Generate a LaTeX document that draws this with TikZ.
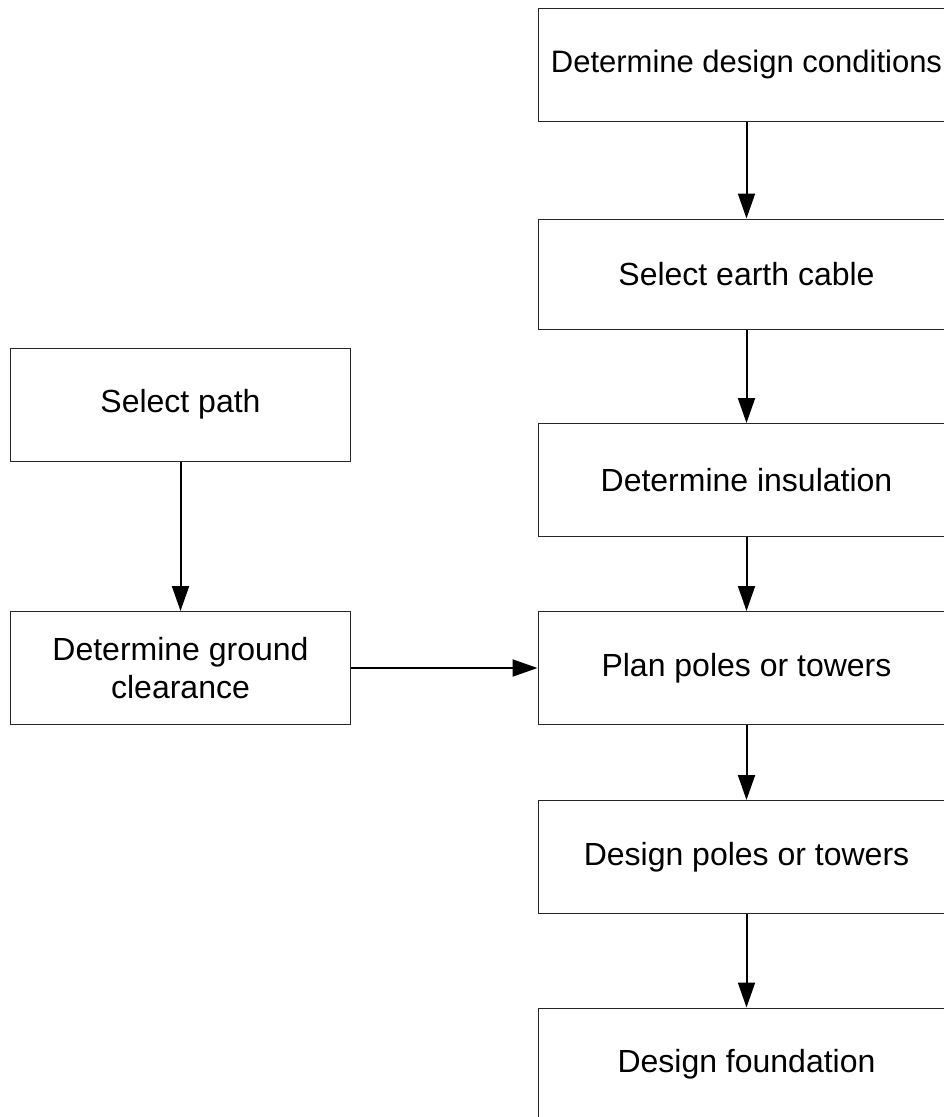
\documentclass[tikz,border=0pt]{standalone}
\usepackage{fontspec}
\setmainfont{Liberation Sans}
\usetikzlibrary{arrows.meta}

\tikzset{
    stepbox/.style={draw=black!85, line width=1bp, minimum height=113bp,
        inner sep=2bp, align=center,
        font=\fontsize{32bp}{38bp}\selectfont},
    rightbox/.style={stepbox, minimum width=417bp},
    leftbox/.style={stepbox, minimum width=340bp},
    flow/.style={-{Triangle[length=25bp,width=17bp]}, line width=2bp}
}

\begin{document}
\begin{tikzpicture}[x=1bp, y=-1bp]
        \useasboundingbox (0,0) rectangle (944,1117);
        \clip (0,0) rectangle (944,1117);

        % right column
        \node[rightbox, font=\fontsize{31bp}{38bp}\selectfont] (cond) at (746.5, 64.5) {Determine design conditions};
        \node[rightbox, minimum height=110bp] (cable) at (746.5, 274) {Select earth cable};
        \node[rightbox] (insul) at (746.5, 480) {Determine insulation};
        \node[rightbox] (plan) at (746.5, 668) {Plan poles or towers};
        \node[rightbox] (dpoles) at (746.5, 857) {Design poles or towers};
        \node[rightbox] (found) at (746.5, 1064.5) {Design foundation};

        % left column
        \node[leftbox] (path) at (180.5, 404.5) {Select path};
        \node[leftbox] (ground) at (180.5, 668) {Determine ground\\clearance};

        \draw[flow] (cond) -- (cable);
        \draw[flow] (cable) -- (insul);
        \draw[flow] (insul) -- (plan);
        \draw[flow] (plan) -- (dpoles);
        \draw[flow] (dpoles) -- (found);

        \draw[flow] (path) -- (ground);
        \draw[flow] (ground) -- (plan);

    \end{tikzpicture}
\end{document}
